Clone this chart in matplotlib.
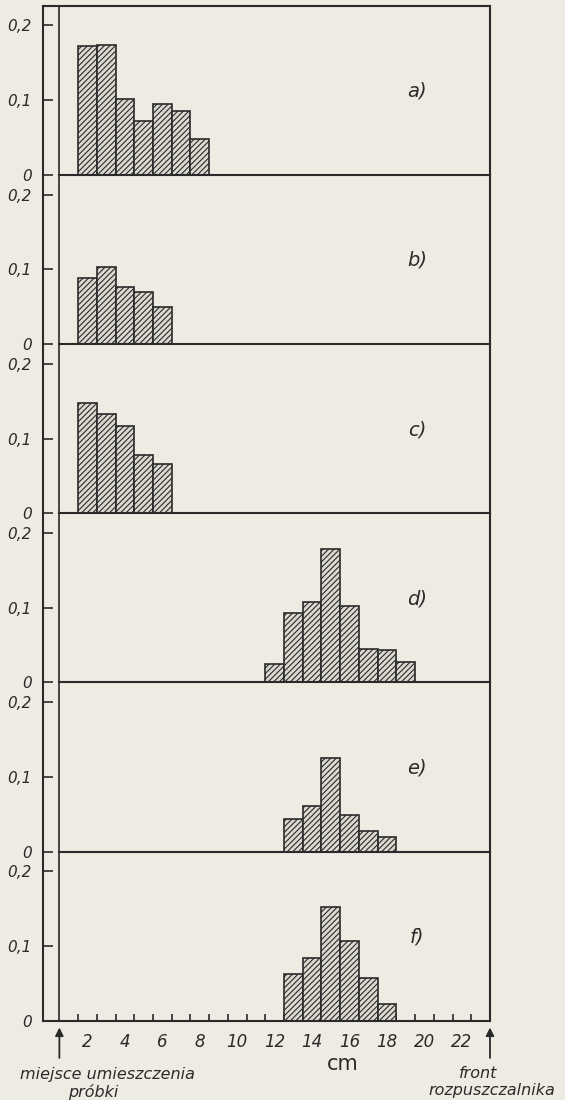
import numpy as np
import matplotlib
matplotlib.use("Agg")
import matplotlib.pyplot as plt

# histogram data (fraction per 1 cm strip)
a_x = [2, 3, 4, 5, 6, 7, 8]
a_y = [0.172, 0.174, 0.102, 0.072, 0.095, 0.086, 0.048]
b_x = [2, 3, 4, 5, 6]
b_y = [0.089, 0.103, 0.077, 0.070, 0.050]
c_x = [2, 3, 4, 5, 6]
c_y = [0.147, 0.133, 0.117, 0.078, 0.066]
d_x = [12, 13, 14, 15, 16, 17, 18, 19]
d_y = [0.025, 0.093, 0.108, 0.178, 0.102, 0.045, 0.044, 0.027]
e_x = [13, 14, 15, 16, 17, 18]
e_y = [0.044, 0.061, 0.125, 0.049, 0.028, 0.020]
f_x = [13, 14, 15, 16, 17, 18]
f_y = [0.063, 0.084, 0.152, 0.106, 0.057, 0.022]

panel_names = ["a)", "b)", "c)", "d)", "e)", "f)"]
y_ticks = [0, 0.1, 0.2]
y_labels = ["0", "0,1", "0,2"]
x_ticks = [2, 4, 6, 8, 10, 12, 14, 16, 18, 20, 22]

START = 0.5    # miejsce umieszczenia probki
FRONT = 23.5   # front rozpuszczalnika
XMIN = -0.39
YMAX = 0.226

PAPER = "#eeebe3"
BARFACE = "#dcd9d1"
INK = "#2a2a2a"

plt.rcParams["hatch.linewidth"] = 0.8
plt.rcParams["font.family"] = ["DejaVu Sans"]

W, H = 565, 1100
fig = plt.figure(figsize=(W / 100, H / 100), dpi=100)
fig.patch.set_facecolor(PAPER)

left_px, right_px = 42.7, 490.0
top_px, bottom_px = 6.0, 1020.7
ph = (bottom_px - top_px) / 6

data = [(a_x, a_y), (b_x, b_y), (c_x, c_y), (d_x, d_y), (e_x, e_y), (f_x, f_y)]
axes = []
for i, (xs, ys) in enumerate(data):
    y0 = top_px + (i + 1) * ph
    ax = fig.add_axes([left_px / W, 1 - y0 / H, (right_px - left_px) / W, ph / H])
    ax.patch.set_alpha(0)
    ax.set_xlim(XMIN, FRONT)
    ax.set_ylim(0, YMAX)

    ax.bar(xs, ys, width=1.0, facecolor=BARFACE, edgecolor=INK,
           hatch="//////", linewidth=1.2, zorder=2)

    for s in ["left", "right", "top", "bottom"]:
        ax.spines[s].set_color(INK)
        ax.spines[s].set_linewidth(1.5)
    ax.spines["top"].set_visible(i == 0)
    ax.spines["bottom"].set_visible(i == 5)

    ax.axvline(START, color=INK, lw=1.2, zorder=3)
    if i < 5:
        frac = (START - XMIN) / (FRONT - XMIN)
        ax.axhline(0, xmin=frac, xmax=1, color=INK, lw=1.5, clip_on=False, zorder=3)

    ax.set_yticks(y_ticks)
    ax.set_yticklabels(y_labels, fontstyle="italic")
    ax.tick_params(axis="y", direction="in", length=7, width=1.2, pad=8,
                   labelsize=11, colors=INK)

    ax.text(19.6, 0.112, panel_names[i], fontsize=14, fontstyle="italic",
            ha="center", va="center", color=INK)

    if i < 5:
        ax.set_xticks([])
    else:
        ax.set_xticks(x_ticks)
        ax.set_xticklabels([str(t) for t in x_ticks], fontstyle="italic")
        ax.set_xticks(np.arange(1.5, 23, 1.0), minor=True)
        ax.tick_params(axis="x", which="major", length=0, pad=9,
                       labelsize=12, colors=INK)
        ax.tick_params(axis="x", which="minor", direction="in", length=5,
                       width=1.2, colors=INK)
        dpx = YMAX / ph
        for xpos in [START, FRONT]:
            ax.annotate("", xy=(xpos, -4 * dpx), xytext=(xpos, -40 * dpx),
                        arrowprops=dict(arrowstyle="-|>", color=INK, lw=1.3,
                                        mutation_scale=12),
                        annotation_clip=False)
    axes.append(ax)

fig.text(107 / W, 1 - 1074 / H, "miejsce umieszczenia", fontsize=11.5,
         fontstyle="italic", ha="center", va="center", color=INK)
fig.text(93 / W, 1 - 1092 / H, "próbki", fontsize=11.5,
         fontstyle="italic", ha="center", va="center", color=INK)
fig.text(343 / W, 1 - 1064 / H, "cm", fontsize=15,
         ha="center", va="center", color=INK)
fig.text(478 / W, 1 - 1073 / H, "front", fontsize=11.5,
         fontstyle="italic", ha="center", va="center", color=INK)
fig.text(492 / W, 1 - 1091 / H, "rozpuszczalnika", fontsize=11.5,
         fontstyle="italic", ha="center", va="center", color=INK)

fig.savefig("out.png", dpi=100, facecolor=PAPER)
